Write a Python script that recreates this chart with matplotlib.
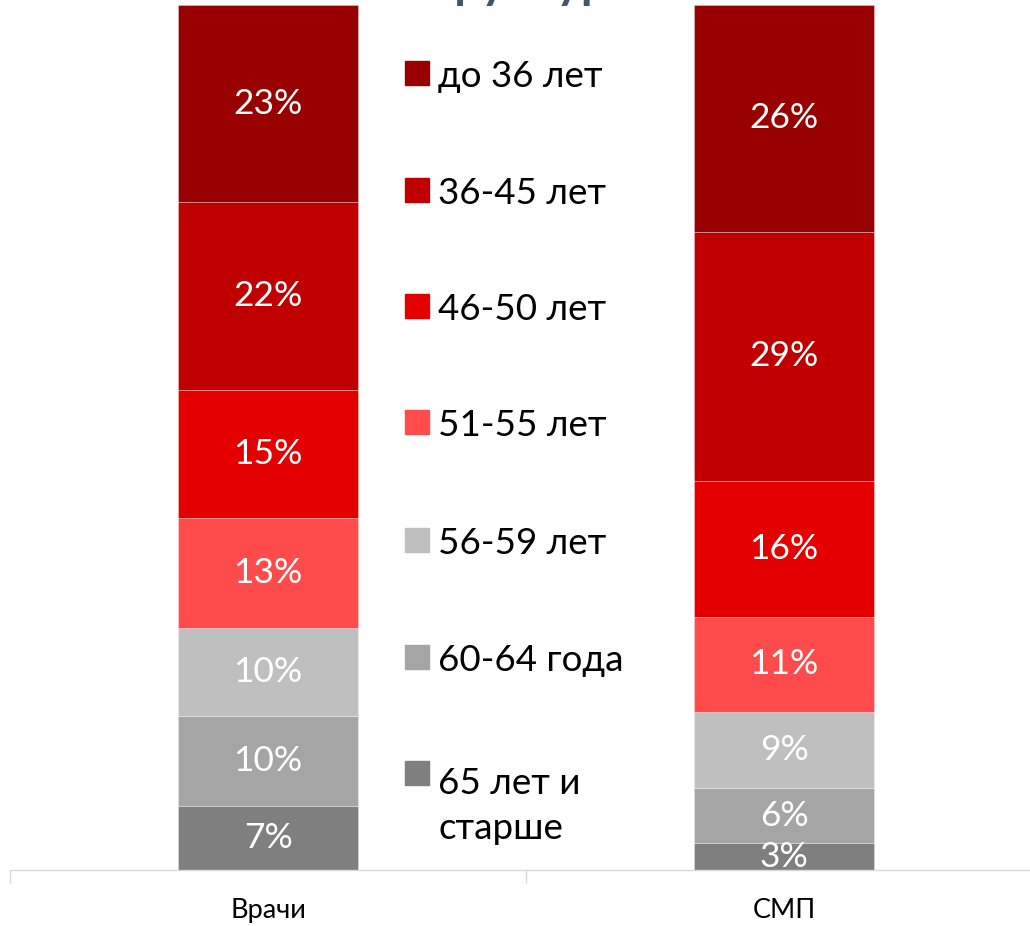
import matplotlib
matplotlib.use("Agg")
import matplotlib.pyplot as plt
from matplotlib.patches import Rectangle
import numpy as np

plt.rcParams['font.family'] = ['Lato', 'DejaVu Sans']

# ---- data ----
groups = ["Врачи", "СМП"]
age_bands = ["65 лет и\nстарше", "60-64 года", "56-59 лет", "51-55 лет",
             "46-50 лет", "36-45 лет", "до 36 лет"]          # bottom -> top
vrachi = [7.4, 10.4, 10.2, 12.7, 14.8, 21.7, 22.8]
smp = [3.1, 6.4, 8.8, 11.0, 15.7, 28.8, 26.2]
colors = ["#7f7f7f", "#a5a5a5", "#bfbfbf", "#ff4b4b",
          "#e50000", "#c00000", "#990000"]
title = "Возрастная\nструктура"

W, H = 1030, 926
fig = plt.figure(figsize=(W / 100, H / 100), dpi=100)

def fx(px):
    return px / W

def fy(py):
    return 1 - py / H

# axes: left edge 10px, bottom 870px, top 5px, right beyond the image
ax = fig.add_axes([fx(10), fy(870), fx(1032), (870 - 5) / H])
ax.set_xlim(-0.5, 1.5)
ax.set_ylim(0, 100)

values = np.array([vrachi, smp]).T  # shape (bands, groups)
x = np.arange(len(groups))
bottom = np.zeros(len(groups))
for band, vals, col in zip(age_bands, values, colors):
    ax.bar(x, vals, width=0.349, bottom=bottom, color=col,
           edgecolor=(1, 1, 1, 0.35), linewidth=0.6, zorder=2)
    for xi, v, b in zip(x, vals, bottom):
        ax.text(xi, b + v / 2, f"{v:.0f}%", ha="center", va="center",
                color="white", fontsize=25.5, clip_on=True, zorder=3)
    bottom += vals

for s in ["top", "right", "left"]:
    ax.spines[s].set_visible(False)
ax.spines["bottom"].set_color("#d9d9d9")
ax.spines["bottom"].set_linewidth(1.0)
ax.set_yticks([])
ax.set_xticks(x)
ax.set_xticklabels(groups, fontsize=19.5, color="black")
ax.tick_params(axis="x", which="major", length=0, pad=20)
ax.set_xticks([-0.5, 0.5, 1.5], minor=True)
ax.tick_params(axis="x", which="minor", length=9, color="#d9d9d9", width=1.0)

# ---- legend (top -> bottom) ----
leg_centers = [73, 190, 306, 422, 540, 657, 773]
line_pitch = 52
for band, col, cy in zip(age_bands[::-1], colors[::-1], leg_centers):
    fig.patches.append(Rectangle((fx(405), fy(cy + 12)), fx(24), 24 / H,
                                 transform=fig.transFigure, color=col,
                                 zorder=5))
    n_extra = band.count("\n")
    fig.text(fx(438), fy(cy + 14 + n_extra * line_pitch), band, ha="left",
             va="baseline", fontsize=26.5, color="black", linespacing=1.45)

# partially visible title
fig.text(fx(520), fy(-2), title, ha="center", va="baseline",
         fontsize=34, fontweight="bold", color="#44546a")

fig.savefig("out.png", dpi=100)
